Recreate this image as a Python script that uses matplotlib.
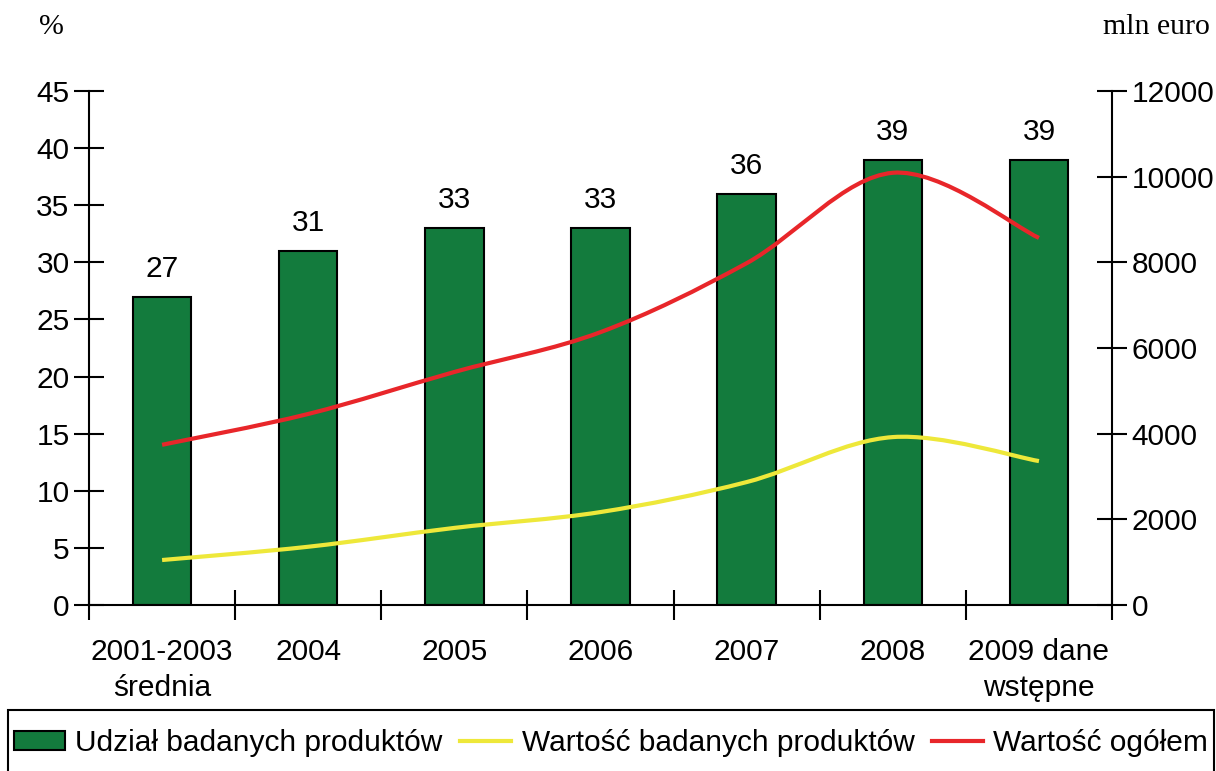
import numpy as np
import matplotlib
matplotlib.use("Agg")
import matplotlib.pyplot as plt
from matplotlib.path import Path
from matplotlib.patches import PathPatch, Rectangle

plt.rcParams['font.family'] = ['Liberation Sans', 'DejaVu Sans']

# dane
kategorie = ['2001-2003\nśrednia', '2004', '2005', '2006', '2007', '2008', '2009 dane\nwstępne']
udzial = [27, 31, 33, 33, 36, 39, 39]              # %
wartosc_badanych = [1050, 1360, 1800, 2170, 2870, 3920, 3360]   # mln euro
wartosc_ogolem = [3740, 4460, 5440, 6370, 7980, 10090, 8570]    # mln euro

ZIELONY = '#137B3D'
ZOLTY = '#EEE83A'
CZERWONY = '#E8262A'
FS = 21.5


def wygladzona(ax, x, y, kolor, lw=3):
    """Linia wygładzona (Catmull-Rom -> Bezier), jak w Excelu"""
    x = np.asarray(x, float)
    y = np.asarray(y, float)
    n = len(x)
    verts = [(x[0], y[0])]
    codes = [Path.MOVETO]
    for i in range(n - 1):
        p0 = np.array([x[max(i - 1, 0)], y[max(i - 1, 0)]])
        p1 = np.array([x[i], y[i]])
        p2 = np.array([x[i + 1], y[i + 1]])
        p3 = np.array([x[min(i + 2, n - 1)], y[min(i + 2, n - 1)]])
        c1 = p1 + (p2 - p0) / 6
        c2 = p2 - (p3 - p1) / 6
        verts += [tuple(c1), tuple(c2), tuple(p2)]
        codes += [Path.CURVE4] * 3
    ax.add_patch(PathPatch(Path(verts, codes), facecolor='none',
                           edgecolor=kolor, lw=lw, capstyle='butt', zorder=3))


fig = plt.figure(figsize=(12.16, 7.71), dpi=100)
ax = fig.add_axes([0.0732, 0.2153, 0.8413, 0.6667])
ax2 = ax.twinx()

x = np.arange(len(kategorie))
ax.bar(x, udzial, width=0.4, color=ZIELONY, edgecolor='black', linewidth=1.5, zorder=2)
for xi, v in zip(x, udzial):
    ax.text(xi, v + 1.2, str(v), ha='center', va='bottom', fontsize=FS)

ax.set_xlim(-0.5, len(kategorie) - 0.5)
ax.set_ylim(0, 45)
ax.set_yticks(range(0, 46, 5))
ax.set_xticks(x)
ax.set_xticklabels(kategorie, fontsize=FS, linespacing=1.35)
ax.set_xticks(np.arange(-0.5, len(kategorie)), minor=True)
ax.tick_params(axis='x', which='major', length=0, pad=24)
ax.tick_params(axis='x', which='minor', length=22, direction='inout', width=1.5)
ax.tick_params(axis='y', labelsize=FS, length=22, direction='inout', width=1.5, pad=3)

ax2.set_ylim(0, 12000)
ax2.set_yticks(range(0, 12001, 2000))
ax2.tick_params(axis='y', labelsize=FS, length=22, direction='inout', width=1.5, pad=3)

wygladzona(ax2, x, wartosc_badanych, ZOLTY)
wygladzona(ax2, x, wartosc_ogolem, CZERWONY)

for a in (ax, ax2):
    a.spines['top'].set_visible(False)
    for s in ('left', 'right', 'bottom'):
        a.spines[s].set_linewidth(1.5)
ax.spines['right'].set_visible(False)
ax2.spines['left'].set_visible(False)
ax2.spines['bottom'].set_visible(False)

fig.text(0.042, 0.965, '%', fontsize=FS, family='Liberation Serif', ha='center', va='center')
fig.text(0.995, 0.965, 'mln euro', fontsize=FS, family='Liberation Serif', ha='right', va='center')

# legenda
uchwyty = [
    matplotlib.patches.Patch(facecolor=ZIELONY, edgecolor='black', linewidth=1.5),
    matplotlib.lines.Line2D([], [], color=ZOLTY, lw=3),
    matplotlib.lines.Line2D([], [], color=CZERWONY, lw=3),
]
etykiety = ['Udział badanych produktów', 'Wartość badanych produktów', 'Wartość ogółem']
leg = fig.legend(uchwyty, etykiety, loc='center', ncol=3, fontsize=FS,
                 bbox_to_anchor=(0.0066, 0.0303, 0.992, 0.012), mode='expand',
                 frameon=False, handlelength=1.7, handleheight=0.6,
                 handletextpad=0.35, columnspacing=0.5, borderaxespad=0,
                 borderpad=0.2)
# ramka legendy (wychodzi poza dolną krawędź)
fig.patches.append(Rectangle((0.0066, -0.02), 0.992, 0.0991, transform=fig.transFigure,
                             facecolor='none', edgecolor='black', linewidth=1.5))

fig.savefig('out.png', dpi=100)
